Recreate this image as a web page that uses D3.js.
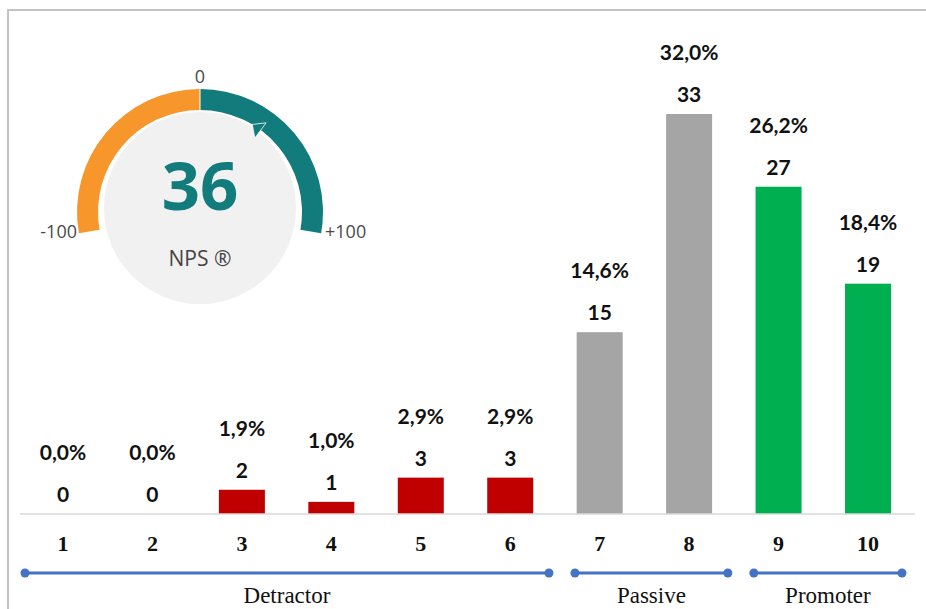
<!DOCTYPE html>
<html lang="en">
<head>
  <meta charset="utf-8">
  <script src="https://d3js.org/d3.v7.min.js"></script>
  <style>
    body { margin: 0; background: #fff; }
    svg { display: block; }
  </style>
</head>
<body>
  <svg></svg>
  <script>
    // chart values
    var categories = ['1', '2', '3', '4', '5', '6', '7', '8', '9', '10'];
    var counts = [0, 0, 2, 1, 3, 3, 15, 33, 27, 19];
    var percents = ['0,0%', '0,0%', '1,9%', '1,0%', '2,9%', '2,9%', '14,6%', '32,0%', '26,2%', '18,4%'];
    var groupNames = ['Detractor', 'Passive', 'Promoter'];
    var groupFirst = ['1', '7', '9'];
    var groupLast = ['6', '8', '10'];
    var npsScore = 36;
    var gaugeTicks = ['-100', '0', '+100'];

    var width = 926, height = 609;
    var groupColor = { Detractor: '#C00000', Passive: '#A5A5A5', Promoter: '#00B050' };

    var svg = d3.select('svg')
      .attr('width', width)
      .attr('height', height);

    // frame lines (top and left)
    svg.append('path')
      .attr('d', 'M8,609 L8,10 L926,10')
      .attr('fill', 'none')
      .attr('stroke', '#c3c3c3')
      .attr('stroke-width', 2);

    var x = d3.scalePoint()
      .domain(categories)
      .range([63, 868]);

    var y = d3.scaleLinear()
      .domain([0, d3.max(counts)])
      .range([514, 114]);

    var barW = 46;

    function groupOf(cat) {
      var i = categories.indexOf(cat);
      for (var g = 0; g < groupNames.length; g++) {
        if (i >= categories.indexOf(groupFirst[g]) && i <= categories.indexOf(groupLast[g])) return groupNames[g];
      }
    }

    var bars = svg.append('g');
    bars.selectAll('rect')
      .data(categories)
      .enter().append('rect')
      .attr('x', function (d) { return x(d) - barW / 2; })
      .attr('y', function (d, i) { return y(counts[i]); })
      .attr('width', barW)
      .attr('height', function (d, i) { return y(0) - y(counts[i]); })
      .attr('fill', function (d) { return groupColor[groupOf(d)]; });

    // baseline
    svg.append('line')
      .attr('x1', 20).attr('x2', 915)
      .attr('y1', y(0)).attr('y2', y(0))
      .attr('stroke', '#d9d9d9')
      .attr('stroke-width', 1.5);

    var labelFont = 'Lato, "Open Sans", sans-serif';

    bars.selectAll('text.count')
      .data(categories)
      .enter().append('text')
      .attr('class', 'count')
      .attr('x', function (d) { return x(d); })
      .attr('y', function (d, i) { return y(counts[i]) - 12; })
      .attr('text-anchor', 'middle')
      .style('font-family', labelFont)
      .style('font-weight', 'bold')
      .style('font-size', '21px')
      .attr('fill', '#111')
      .text(function (d, i) { return counts[i]; });

    bars.selectAll('text.pct')
      .data(categories)
      .enter().append('text')
      .attr('class', 'pct')
      .attr('x', function (d) { return x(d); })
      .attr('y', function (d, i) { return y(counts[i]) - 54; })
      .attr('text-anchor', 'middle')
      .style('font-family', labelFont)
      .style('font-weight', 'bold')
      .style('font-size', '21px')
      .attr('fill', '#111')
      .text(function (d, i) { return percents[i]; });

    // category axis labels
    svg.selectAll('text.tick')
      .data(categories)
      .enter().append('text')
      .attr('class', 'tick')
      .attr('x', function (d) { return x(d); })
      .attr('y', 551)
      .attr('text-anchor', 'middle')
      .style('font-family', '"Liberation Serif", "DejaVu Serif", serif')
      .style('font-weight', 'bold')
      .style('font-size', '22px')
      .attr('fill', '#111')
      .text(function (d) { return d; });

    // group brackets
    var step = x.step();
    var groups = svg.append('g');
    groupNames.forEach(function (name, g) {
      var left = g === 0 ? x(groupFirst[g]) - 38 : x(groupFirst[g]) - step / 2 + 20;
      var right = g === groupNames.length - 1 ? x(groupLast[g]) + 34 : x(groupLast[g]) + step / 2 - 6;
      groups.append('line')
        .attr('x1', left).attr('x2', right)
        .attr('y1', 573).attr('y2', 573)
        .attr('stroke', '#4472C4')
        .attr('stroke-width', 3);
      [left, right].forEach(function (cx) {
        groups.append('circle')
          .attr('cx', cx).attr('cy', 573)
          .attr('r', 4.5)
          .attr('fill', '#4472C4');
      });
      groups.append('text')
        .attr('x', (left + right) / 2)
        .attr('y', 603)
        .attr('text-anchor', 'middle')
        .style('font-family', '"Liberation Serif", "DejaVu Serif", serif')
        .style('font-size', '23px')
        .attr('fill', '#111')
        .text(name);
    });

    // NPS gauge
    var gcx = 200, gcy = 212;
    var gauge = svg.append('g')
      .attr('transform', 'translate(' + gcx + ',' + gcy + ')');

    var ang = d3.scaleLinear()
      .domain([-100, 100])
      .range([-100 * Math.PI / 180, 100 * Math.PI / 180]);

    gauge.append('circle')
      .attr('cx', 0).attr('cy', -4)
      .attr('r', 96)
      .attr('fill', '#f1f1f1');

    var arc = d3.arc()
      .innerRadius(102)
      .outerRadius(123);

    gauge.append('path')
      .attr('d', arc({ startAngle: ang(-100), endAngle: ang(0) }))
      .attr('fill', '#F7962B');
    gauge.append('path')
      .attr('d', arc({ startAngle: ang(0), endAngle: ang(100) }))
      .attr('fill', '#127B7C');
    gauge.append('line')
      .attr('x1', 0).attr('x2', 0)
      .attr('y1', -101).attr('y2', -124)
      .attr('stroke', '#fff')
      .attr('stroke-width', 1);

    // value pointer
    function polar(a, r) {
      return [r * Math.sin(a), -r * Math.cos(a)];
    }
    var a0 = ang(npsScore);
    var tri = [polar(a0 - 0.09, 102), polar(a0 + 0.01, 111), polar(a0 + 0.01, 92)];
    gauge.append('path')
      .attr('d', 'M' + tri.join('L') + 'Z')
      .attr('fill', '#127B7C')
      .attr('stroke', '#fff')
      .attr('stroke-width', 0.8);

    var tickFont = '"Open Sans", sans-serif';
    gauge.append('text')
      .attr('x', 0).attr('y', -129)
      .attr('text-anchor', 'middle')
      .style('font-family', tickFont)
      .style('font-size', '18px')
      .attr('fill', '#4a4a4a')
      .text(gaugeTicks[1]);
    gauge.append('text')
      .attr('x', -123).attr('y', 26)
      .attr('text-anchor', 'end')
      .style('font-family', tickFont)
      .style('font-size', '18px')
      .attr('fill', '#4a4a4a')
      .text(gaugeTicks[0]);
    gauge.append('text')
      .attr('x', 125).attr('y', 26)
      .attr('text-anchor', 'start')
      .style('font-family', tickFont)
      .style('font-size', '18px')
      .attr('fill', '#4a4a4a')
      .text(gaugeTicks[2]);

    gauge.append('text')
      .attr('x', 0).attr('y', -2)
      .attr('text-anchor', 'middle')
      .style('font-family', tickFont)
      .style('font-weight', 'bold')
      .style('font-size', '67px')
      .attr('fill', '#127B7C')
      .text(npsScore);

    gauge.append('text')
      .attr('x', 0).attr('y', 54)
      .attr('text-anchor', 'middle')
      .style('font-family', tickFont)
      .style('font-size', '21px')
      .attr('fill', '#444')
      .text('NPS \u00AE');
  </script>
</body>
</html>
